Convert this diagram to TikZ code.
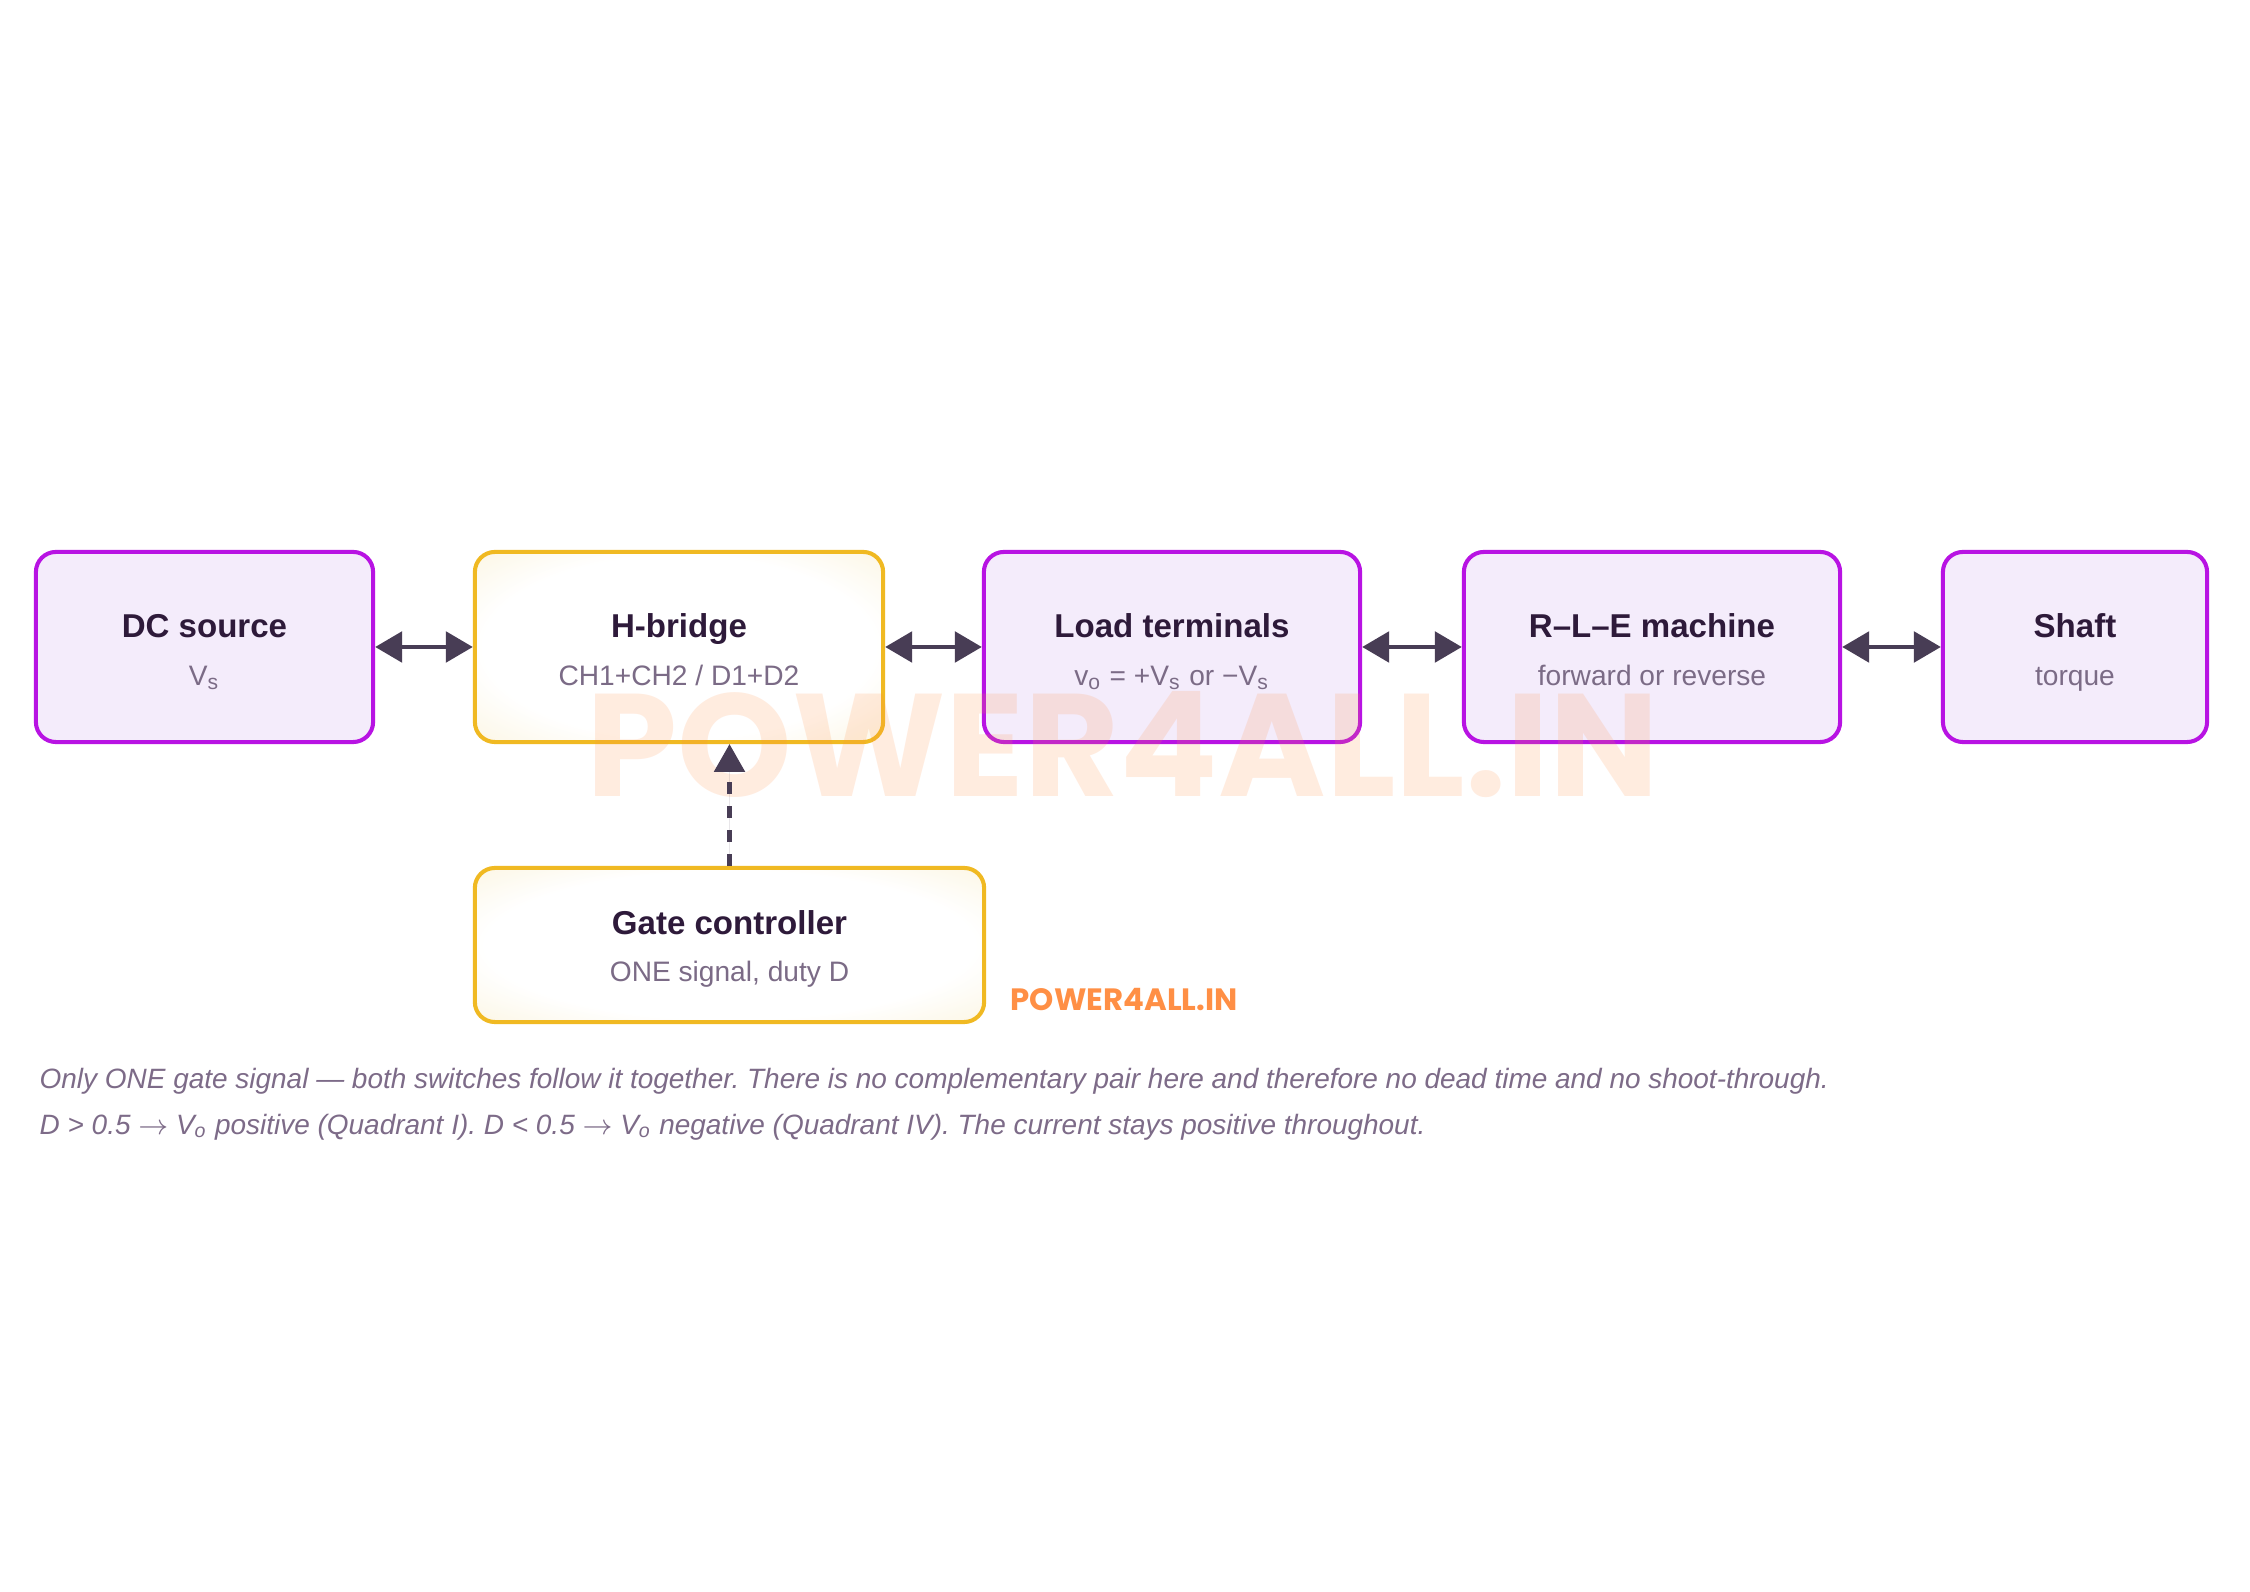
\documentclass[tikz,border=0pt]{standalone}
\usepackage{fontspec}
\setmainfont{Liberation Sans}
\newfontfamily\popp{Poppins}
\usetikzlibrary{arrows.meta,positioning,calc}
\definecolor{pborder}{HTML}{B813E3}
\definecolor{pfill}{HTML}{F4ECFB}
\definecolor{gborder}{HTML}{F0B922}
\definecolor{gfill}{HTML}{FAF1D4}
\definecolor{ttl}{HTML}{2E1A3A}
\definecolor{sub}{HTML}{7B6B86}
\definecolor{arr}{HTML}{483D55}
\definecolor{cap}{HTML}{7D6B88}
\definecolor{wm}{HTML}{FF8F45}
\pgfdeclareradialshading{glow}{\pgfpoint{0bp}{0bp}}{color(0bp)=(white); color(24bp)=(white); color(43bp)=(gfill); color(50bp)=(gfill)}
\tikzset{
  box/.style={rounded corners=2mm, line width=1.15pt, inner sep=0pt, minimum height=19mm},
  pbox/.style={box, draw=pborder, fill=pfill},
  gbox/.style={box, draw=gborder, shading=glow},
  ttlt/.style={anchor=base, inner sep=0pt, text=ttl, font=\fontsize{9.4}{11}\selectfont\bfseries},
  subt/.style={anchor=base, inner sep=0pt, text=sub, font=\fontsize{8}{10}\selectfont},
  biarrow/.style={draw=arr, line width=1.4pt, {Triangle[length=7.7pt,width=8.6pt]}-{Triangle[length=7.7pt,width=8.6pt]}, fill=arr},
  dasharrow/.style={draw=arr, line width=1.3pt, dash pattern=on 3.4pt off 3.4pt, -{Triangle[length=7.9pt,width=8.6pt]}, fill=arr},
  captext/.style={anchor=west, inner sep=0pt, text=cap, font=\fontsize{7.95}{10}\selectfont\itshape},
}
\newcommand{\ra}{\ensuremath{\rightarrow}}
\begin{document}
\begin{tikzpicture}[x=0.01cm,y=-0.01cm]
\useasboundingbox[fill=white] (0,0) rectangle (2250,1592);
% boxes
\node[pbox, minimum width=33.7mm] (dc) at (204.5,647) {};
\node[gbox, minimum width=40.8mm] (hb) at (679,647) {};
\node[pbox, minimum width=37.6mm] (lt) at (1172,647) {};
\node[pbox, minimum width=37.6mm] (rle) at (1652,647) {};
\node[pbox, minimum width=26.4mm] (sh) at (2075,647) {};
\node[gbox, minimum width=50.9mm, minimum height=15.4mm] (gc) at (729.5,945) {};
% watermark over the boxes
\node[inner sep=0pt, text=wm, opacity=0.17, font=\popp\bfseries\fontsize{41.5}{44}\selectfont] (wmb) at (1123,745) {POWER4ALL.IN};
% labels
\node[ttlt] (dct) at ($(dc.center)+(0,-9)$) {DC source};
\node[subt] (dcs) at ($(dc.center)+(0,39)$) {V\textsubscript{s}};
\node[ttlt] (hbt) at ($(hb.center)+(0,-9)$) {H-bridge};
\node[subt] (hbs) at ($(hb.center)+(0,39)$) {CH1+CH2 / D1+D2};
\node[ttlt] (ltt) at ($(lt.center)+(0,-9)$) {Load terminals};
\node[subt] (lts) at ($(lt.center)+(0,39)$) {v\textsubscript{o} = +V\textsubscript{s} or −V\textsubscript{s}};
\node[ttlt] (rlet) at ($(rle.center)+(0,-9)$) {R–L–E machine};
\node[subt] (rles) at ($(rle.center)+(0,39)$) {forward or reverse};
\node[ttlt] (sht) at ($(sh.center)+(0,-9)$) {Shaft};
\node[subt] (shs) at ($(sh.center)+(0,39)$) {torque};
\node[ttlt] (gct) at ($(gc.center)+(0,-10)$) {Gate controller};
\node[subt] (gcs) at ($(gc.center)+(0,37)$) {ONE signal, duty D};
% connectors
\draw[biarrow] (dc.east) -- (hb.west);
\draw[biarrow] (hb.east) -- (lt.west);
\draw[biarrow] (lt.east) -- (rle.west);
\draw[biarrow] (rle.east) -- (sh.west);
\draw[dasharrow] (gc.north) -- (gc.north |- hb.south);
\node[anchor=west, inner sep=0pt, text=wm, font=\popp\bfseries\fontsize{8.77}{10}\selectfont] (wms) at (1010,1000) {POWER4ALL.IN};
\node[captext] (c1) at (39,1081) {\frenchspacing Only ONE gate signal — both switches follow it together. There is no complementary pair here and therefore no dead time and no shoot-through.};
\node[captext] (c2) at (39,1127) {\frenchspacing D > 0.5 \ra{} V\textsubscript{o} positive (Quadrant I). D < 0.5 \ra{} V\textsubscript{o} negative (Quadrant IV). The current stays positive throughout.};
\end{tikzpicture}
\end{document}
